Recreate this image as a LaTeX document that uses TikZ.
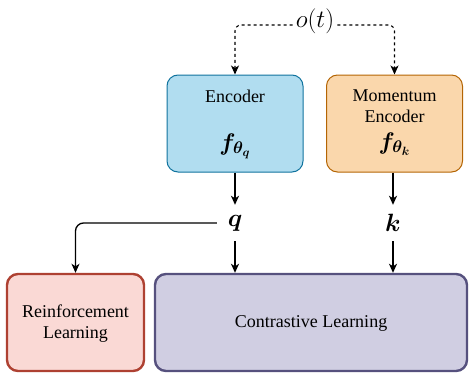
\RequirePackage{fix-cm}
\documentclass[tikz,border=0pt]{standalone}
\usepackage{fontspec}
\setmainfont{Liberation Serif}
\usepackage{amsmath,bm}
\usetikzlibrary{arrows.meta}
\definecolor{encfill}{HTML}{B1DDF0}
\definecolor{encdraw}{HTML}{10739E}
\definecolor{momfill}{HTML}{FAD7AC}
\definecolor{momdraw}{HTML}{B46504}
\definecolor{rlfill}{HTML}{FAD9D5}
\definecolor{rldraw}{HTML}{AE4132}
\definecolor{clfill}{HTML}{D0CEE2}
\definecolor{cldraw}{HTML}{56517E}
\tikzset{
  x=1pt, y=-1pt,
  box/.style={rectangle, rounded corners=11pt, inner sep=0pt},
  topbox/.style={box, line width=1pt, minimum width=136pt, minimum height=97pt},
  botbox/.style={box, line width=2.4pt, minimum height=97pt},
  lbl/.style={inner sep=0pt, font=\fontsize{18}{21}\selectfont, align=center},
  fn/.style={inner sep=0pt, font=\fontsize{24}{26}\selectfont},
  var/.style={inner sep=0pt, minimum width=36pt, minimum height=36pt, font=\fontsize{25}{27}\selectfont},
  tip/.style={-{Stealth[length=9pt,width=8pt,inset=2.5pt]}},
  conn/.style={line width=1.3pt, tip},
  obsline/.style={dashed, line width=1.1pt, rounded corners=6pt, tip},
}
\begin{document}
\begin{tikzpicture}
\useasboundingbox (0,0) rectangle (469,375);

% encoders
\node[topbox, draw=encdraw, fill=encfill] (enc) at (235,123.5) {};
\node[lbl] (encT) at (235,96) {Encoder};
\node[fn] (encF) at (235,146) {$\bm{f_{\theta_q}}$};

\node[topbox, draw=momdraw, fill=momfill] (mom) at (394.5,123.5) {};
\node[lbl] (momT) at (394.5,106) {Momentum\\Encoder};
\node[fn] (momF) at (394.5,144) {$\bm{f_{\theta_k}}$};

% observation
\node[inner sep=3pt, font=\fontsize{25}{27}\selectfont] (obs) at (315,21) {$o(t)$};
\draw[obsline] ([yshift=-4pt]obs.west) -| (enc.north);
\draw[obsline] ([yshift=-4pt]obs.east) -| (mom.north);

% embeddings
\node[var] (q) at (235,223) {$\bm{q}$};
\node[var] (k) at (393,223) {$\bm{k}$};

% learning blocks
\node[botbox, draw=rldraw, fill=rlfill, minimum width=137pt] (rl) at (75.5,322.5) {};
\node[lbl] (rlT) at (75.5,324) {Reinforcement\\Learning};
\node[botbox, draw=cldraw, fill=clfill, minimum width=312pt] (cl) at (311,322.5) {};
\node[lbl] (clT) at (311,323) {Contrastive Learning};

% connectors
\draw[conn] (enc.south) -- (q.north);
\draw[conn] (mom.south -| k) -- (k.north);
\draw[conn] (q.south) -- (q.south |- cl.north);
\draw[conn] (k.south) -- (k.south |- cl.north);
\draw[conn, rounded corners=8pt] (q.west) -| (rl.north);
\end{tikzpicture}
\end{document}
